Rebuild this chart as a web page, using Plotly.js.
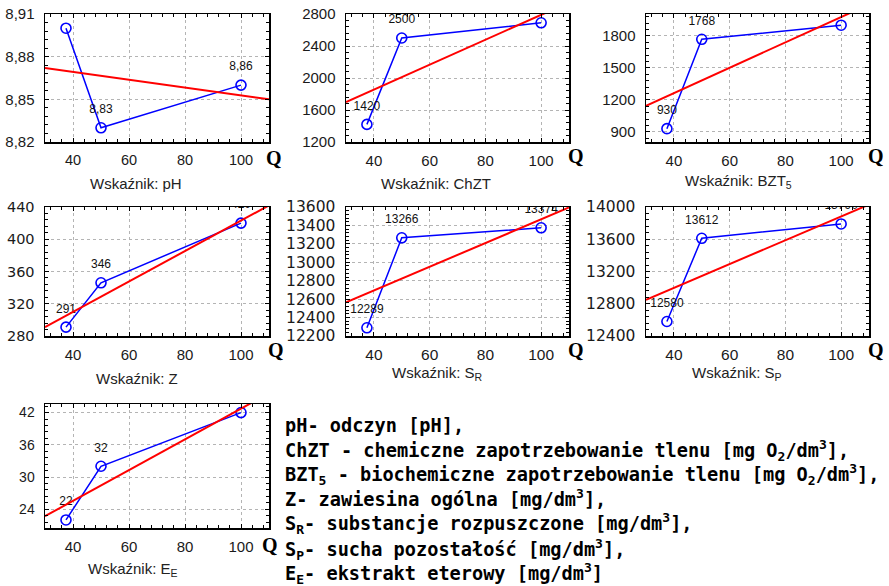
<!DOCTYPE html>
<html><head><meta charset="utf-8">
<script src="https://cdn.plot.ly/plotly-3.0.1.min.js"></script>
<style>html,body{margin:0;padding:0;background:#fff}#c{width:889px;height:586px}</style>
</head><body><div id="c"></div>
<script>
// ---- data ----
const Q = [37.5, 50, 100];
const pH   = [8.90, 8.83, 8.86];
const ChZT = [1420, 2500, 2690];
const BZT5 = [930, 1768, 1900];
const Z    = [291, 346, 420];
const SR   = [12289, 13266, 13374];
const SP   = [12580, 13612, 13790];
const EE   = [22, 32, 42];

const lab_pH   = ['', '8,83', '8,86'];
const lab_ChZT = ['1420', '2500', '2690'];
const lab_BZT5 = ['930', '1768', '1900'];
const lab_Z    = ['291', '346', '420'];
const lab_SR   = ['12289', '13266', '13374'];
const lab_SP   = ['12580', '13612', '13790'];
const lab_EE   = ['22', '32', '42'];

// fitted (red) trend line end points
const fitQ = [30, 110];
const fit_pH   = [8.872, 8.850];
const fit_ChZT = [1700, 2945];
const fit_BZT5 = [1145, 2095];
const fit_Z    = [291, 442];
const fit_SR   = [12565, 13595];
const fit_SP   = [12850, 14030];
const fit_EE   = [22.7, 45.6];

// tick labels
const xTickVals = [40, 60, 80, 100];
const xTickText = ['40', '60', '80', '100'];
const yt_pH   = [8.82, 8.85, 8.88, 8.91];
const ytt_pH  = ['8,82', '8,85', '8,88', '8,91'];
const yt_ChZT = [1200, 1600, 2000, 2400, 2800];
const yt_BZT5 = [900, 1200, 1500, 1800];
const yt_Z    = [280, 320, 360, 400, 440];
const yt_SR   = [12200, 12400, 12600, 12800, 13000, 13200, 13400, 13600];
const yt_SP   = [12400, 12800, 13200, 13600, 14000];
const yt_EE   = [24, 30, 36, 42];

const xTitles = ['Wskaźnik: pH', 'Wskaźnik: ChZT', 'Wskaźnik: BZT<sub>5</sub>', 'Wskaźnik: Z',
                 'Wskaźnik: S<sub>R</sub>', 'Wskaźnik: S<sub>P</sub>', 'Wskaźnik: E<sub>E</sub>'];

const legendLines = [
  'pH- odczyn [pH],',
  'ChZT - chemiczne zapotrzebowanie tlenu [mg O<sub>2</sub>/dm<sup>3</sup>],',
  'BZT<sub>5</sub> - biochemiczne zapotrzebowanie tlenu [mg O<sub>2</sub>/dm<sup>3</sup>],',
  'Z- zawiesina ogólna [mg/dm<sup>3</sup>],',
  'S<sub>R</sub>- substancje rozpuszczone [mg/dm<sup>3</sup>],',
  'S<sub>P</sub>- sucha pozostałość [mg/dm<sup>3</sup>],',
  'E<sub>E</sub>- ekstrakt eterowy [mg/dm<sup>3</sup>]'
];

// ---- layout geometry (pixels) ----
const W = 889, H = 586;
const LIB = 'Liberation Sans, Arial, sans-serif';
const DJV = 'DejaVu Sans, sans-serif';
const panels = [
  {y: pH,   lab: lab_pH,   fit: fit_pH,   yr: [8.82, 8.91],   tv: yt_pH,   tt: ytt_pH, mdt: 0.006, yf: [LIB, 15], xf: [LIB, 14.5], px: [45, 269], py: [14, 142], title: [136, 183], q: [274, 158]},
  {y: ChZT, lab: lab_ChZT, fit: fit_ChZT, yr: [1200, 2800],   tv: yt_ChZT, mdt: 80,  yf: [LIB, 15],   xf: [LIB, 15], px: [346, 569], py: [14, 142], title: [436, 183], q: [576, 156]},
  {y: BZT5, lab: lab_BZT5, fit: fit_BZT5, yr: [805, 2005],    tv: yt_BZT5, mdt: 60,  yf: [LIB, 15],   xf: [LIB, 15], px: [646, 869], py: [14, 142], title: [738, 181], q: [876, 156]},
  {y: Z,    lab: lab_Z,    fit: fit_Z,    yr: [280, 440],     tv: yt_Z,    mdt: 8,   yf: [DJV, 14.5], xf: [LIB, 15], px: [45, 269],  py: [207, 336], title: [137, 378], q: [276, 350]},
  {y: SR,   lab: lab_SR,   fit: fit_SR,   yr: [12200, 13600], tv: yt_SR,   mdt: 40,  yf: [DJV, 15.5], xf: [LIB, 15.5], px: [346, 569], py: [207, 336], title: [437, 374], q: [576, 350]},
  {y: SP,   lab: lab_SP,   fit: fit_SP,   yr: [12400, 14000], tv: yt_SP,   mdt: 80,  yf: [DJV, 15.5], xf: [LIB, 15.5], px: [646, 869], py: [207, 336], title: [737, 374], q: [876, 350]},
  {y: EE,   lab: lab_EE,   fit: fit_EE,   yr: [20.5, 43.6],   tv: yt_EE,   mdt: 1.2, yf: [LIB, 14],   xf: [LIB, 15], px: [45, 269],  py: [404, 528], title: [133, 569], q: [270, 545]}
];

const traces = [];
const layout = {
  width: W, height: H, margin: {l: 0, r: 0, t: 0, b: 0},
  paper_bgcolor: '#fff', plot_bgcolor: '#fff', showlegend: false,
  annotations: []
};

panels.forEach((p, i) => {
  const n = i === 0 ? '' : String(i + 1);
  traces.push({
    x: Q, y: p.y, xaxis: 'x' + n, yaxis: 'y' + n,
    type: 'scatter', mode: 'lines+markers', cliponaxis: true, hoverinfo: 'skip',
    line: {color: '#0000ff', width: 1.5},
    marker: {symbol: 'circle-open', size: 10, color: '#0000ff', line: {width: 1.6, color: '#0000ff'}}
  });
  // value labels (invisible larger marker only to push labels a little higher)
  traces.push({
    x: Q, y: p.y, text: p.lab, xaxis: 'x' + n, yaxis: 'y' + n,
    type: 'scatter', mode: 'markers+text', textposition: 'top center',
    textfont: {family: LIB, size: 12, color: '#111'},
    cliponaxis: true, hoverinfo: 'skip',
    marker: {size: 17, color: 'rgba(0,0,0,0)', line: {width: 0}}
  });
  traces.push({
    x: fitQ, y: p.fit, xaxis: 'x' + n, yaxis: 'y' + n,
    type: 'scatter', mode: 'lines', cliponaxis: true, hoverinfo: 'skip',
    line: {color: '#ff0000', width: 2}
  });
  const common = {
    showline: true, linecolor: '#000', linewidth: 1.5, mirror: 'allticks',
    ticks: 'inside', ticklen: 4, tickcolor: '#000', tickwidth: 1,
    showgrid: true, gridcolor: '#b4b4b4', griddash: 'dot', gridwidth: 1,
    zeroline: false, fixedrange: true
  };
  layout['xaxis' + n] = Object.assign({}, common, {
    domain: [p.px[0] / W, p.px[1] / W], range: [30, 110], anchor: 'y' + n,
    tickmode: 'array', tickvals: xTickVals, ticktext: xTickText,
    tickfont: {family: p.xf[0], size: p.xf[1], color: '#1a1a1a'},
    ticklabelstandoff: 4,
    minor: {tickmode: 'linear', tick0: 0, dtick: 4, ticks: 'inside', ticklen: 3, tickcolor: '#000', showgrid: false}
  });
  layout['yaxis' + n] = Object.assign({}, common, {
    domain: [1 - p.py[1] / H, 1 - p.py[0] / H], range: p.yr, anchor: 'x' + n,
    tickmode: 'array', tickvals: p.tv, ticktext: p.tt || p.tv.map(String),
    tickfont: {family: p.yf[0], size: p.yf[1], color: '#1a1a1a'},
    ticklabelstandoff: 6,
    minor: {tickmode: 'linear', tick0: p.tv[0], dtick: p.mdt, ticks: 'inside', ticklen: 3, tickcolor: '#000', showgrid: false}
  });
  layout.annotations.push({
    xref: 'paper', yref: 'paper', x: p.title[0] / W, y: 1 - p.title[1] / H,
    xanchor: 'center', yanchor: 'middle', showarrow: false, text: xTitles[i],
    font: {family: LIB, size: 15, color: '#222'}
  });
  layout.annotations.push({
    xref: 'paper', yref: 'paper', x: p.q[0] / W, y: 1 - p.q[1] / H,
    xanchor: 'center', yanchor: 'middle', showarrow: false, text: '<b>Q</b>',
    font: {family: 'Liberation Serif, Times New Roman, serif', size: 20, color: '#000'}
  });
});

const legendY = [425, 450, 474, 498, 523, 549, 573];
legendLines.forEach((t, i) => {
  layout.annotations.push({
    xref: 'paper', yref: 'paper', x: 283 / W, y: 1 - legendY[i] / H,
    xanchor: 'left', yanchor: 'middle', showarrow: false, align: 'left',
    text: '<b>' + t + '</b>',
    font: {family: 'DejaVu Sans Mono, monospace', size: 18.6, color: '#000'}
  });
});

Plotly.newPlot('c', traces, layout, {staticPlot: true, displayModeBar: false});
</script></body></html>
